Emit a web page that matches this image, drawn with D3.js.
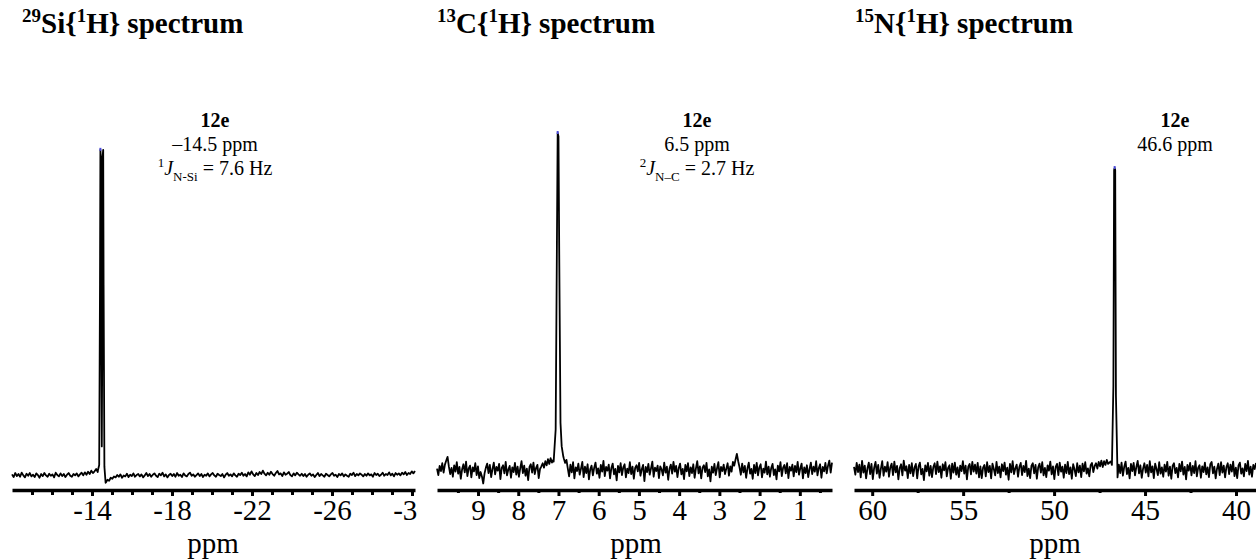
<!DOCTYPE html>
<html>
<head>
<meta charset="utf-8">
<script src="https://cdn.jsdelivr.net/npm/d3@7"></script>
<style>
	body { margin: 0; background: #fff; }
	svg { display: block; font-family: "Liberation Serif", "Times New Roman", serif; }
</style>
</head>
<body>
<div id="chart"></div>
<script>
/* global d3 */

// ---- 29Si{1H} ----
var siDomain = [-10.0, -30.15];
var siTicks = [-14, -18, -22, -26, -30];
var siMinor = [-11, -12, -13, -15, -16, -17, -19, -20, -21, -23, -24, -25, -27, -28, -29];
var siPeakPpm = [-14.30, -14.36, -14.40, -14.42, -14.45, -14.47, -14.49, -14.51, -14.53, -14.56, -14.58, -14.62, -14.68];
var siPeakVal = [0.0, 1.5, 55, 95, 92, 35, 7, 33, 93, 95, 55, 1, -3.8];
var siNoise = [
	-1.3,-2.1,-0.9,-1.8,-1.2,-2.0,-0.8,-1.6,-2.2,-1.1,-1.7,-0.9,-1.9,-1.4,-2.1,-1.0,-1.5,-2.3,-1.2,-1.8,
	-0.9,-1.6,-2.0,-1.1,-1.7,-1.3,-2.2,-0.8,-1.5,-1.9,-1.0,-1.8,-1.2,-2.1,-1.4,-0.9,-1.7,-2.0,-1.2,-1.6,
	-1.0,-1.9,-1.3,-0.8,-1.6,-0.7,-1.4,-0.5,-1.2,-0.2,-0.9,-0.4,0.3,-0.6,-1.5,-1.5,-1.5,-1.5,-3.7,-2.9,
	-3.2,-2.3,-2.6,-1.9,-2.2,-1.5,-2.0,-1.3,-2.3,-1.6,-1.9,-1.1,-2.1,-1.4,-1.8,-1.0,-2.0,-1.5,-1.2,-1.9,
	-1.3,-2.2,-1.6,-0.9,-1.8,-1.2,-2.0,-1.4,-1.0,-1.7,-2.1,-1.1,-1.6,-0.8,-1.9,-1.3,-2.2,-1.5,-1.1,-1.8,
	-1.2,-2.0,-0.9,-1.7,-1.4,-2.1,-1.0,-1.6,-1.9,-1.2,-0.8,-1.7,-1.3,-2.0,-1.5,-1.0,-1.8,-1.2,-2.1,-1.4,
	-1.7,-1.0,-1.9,-1.3,-0.9,-1.6,-2.0,-1.1,-1.5,-1.8,-1.2,-2.2,-1.4,-0.9,-1.7,-1.3,-1.9,-1.0,-1.6,-2.0,
	-1.1,-1.5,-0.8,-1.7,-1.2,-1.9,-0.7,-1.4,-0.4,-1.3,-1.8,-0.9,-1.5,-0.6,-1.2,-0.2,-1.1,-1.6,-0.8,-1.4,
	-0.5,-1.2,-1.7,-0.9,-0.3,-1.3,-1.0,-1.8,-0.7,-1.4,-1.1,-0.6,-1.5,-1.9,-1.0,-1.6,-0.8,-1.3,-1.7,-1.1,
	-1.8,-1.2,-2.0,-1.4,-1.0,-1.7,-1.3,-2.1,-1.5,-0.9,-1.8,-1.2,-1.6,-2.0,-1.1,-1.5,-1.9,-1.3,-0.9,-1.7,
	-1.4,-2.1,-1.2,-1.6,-1.0,-1.9,-1.3,-1.7,-2.0,-1.1,-1.5,-0.8,-1.8,-1.2,-1.6,-1.0,-1.4,-1.9,-1.2,-1.7,
	-1.0,-1.6,-1.3,-2.0,-0.9,-1.5,-1.1,-1.8,-1.4,-0.8,-1.7,-1.2,-1.5,-0.7,-1.6,-1.1,-1.9,-0.9,-1.4,-1.0,
	-1.6,-0.8,-1.3,-0.6,-1.5,-0.9,-1.2,-0.4,-1.0,-0.3
];

// ---- 13C{1H} ----
var cDomain = [10.02, 0.2];
var cTicks = [9, 8, 7, 6, 5, 4, 3, 2, 1];
var cMinor = [9.5, 8.5, 7.5, 6.5, 5.5, 4.5, 3.5, 2.5, 1.5, 0.5];
var cPeakPpm = [7.12, 7.07, 7.04, 7.02, 7.00, 6.98, 6.95, 6.92, 6.88];
var cPeakVal = [2.5, 12, 65, 100, 99, 62, 14, 7, 4];
var cNoise = [
	0.4,-1.5,1.2,-0.3,2.0,-0.8,1.6,2.8,3.9,1.0,-1.2,0.6,-2.0,1.4,-0.5,2.3,-1.1,0.9,-2.6,0.2,
	1.7,-0.7,2.5,-1.8,0.5,1.3,-2.2,0.8,-0.4,2.0,-1.5,1.1,-2.4,-0.6,-1.9,-4.0,-1.0,0.7,1.9,-0.9,
	1.5,-2.1,0.3,2.2,-1.3,0.9,-0.2,1.8,-2.7,0.6,1.4,-1.0,2.4,-1.6,0.1,1.2,-2.3,0.8,-0.6,2.1,
	-1.4,1.0,-2.0,0.5,2.6,-0.9,1.3,-1.7,0.4,-3.0,0.9,1.7,-0.8,2.2,-1.2,0.6,1.5,-2.4,0.3,1.1,
	2.0,0.7,2.6,1.4,3.2,1.8,3.5,2.2,3.0,0.0,0.0,0.0,0.0,0.0,0.0,0.0,3.4,2.1,3.0,0.5,
	-1.9,1.6,-0.7,2.3,-2.5,0.8,-0.3,1.9,-1.4,0.4,2.4,-2.1,1.0,-0.9,1.7,-2.8,0.2,1.3,-1.6,0.7,
	2.2,-1.1,0.5,-2.3,1.5,-0.5,2.7,-1.8,0.9,-0.2,1.6,-2.5,0.6,1.9,-1.3,0.3,-3.1,1.2,-0.7,2.0,
	-1.5,0.8,1.7,-2.2,0.4,-0.9,2.3,-1.2,1.0,-2.6,0.6,1.4,-0.4,2.1,-1.7,0.2,1.5,-3.3,0.9,-0.6,
	1.8,-1.4,0.5,2.5,-2.0,0.7,-0.3,1.3,-2.4,1.1,0.2,-1.6,2.2,-0.8,1.0,-2.9,0.4,1.6,-1.1,2.4,
	-0.5,1.2,-2.1,0.6,1.9,-1.3,0.3,-2.7,1.5,-0.4,2.0,-1.8,0.8,-0.9,1.7,-2.3,0.5,2.6,-1.0,1.1,
	-2.5,0.7,1.4,-0.6,2.1,-1.9,0.2,-3.4,1.0,-0.8,1.8,-1.5,0.6,2.3,-2.2,0.9,-0.3,1.6,-1.2,0.4,
	2.0,-1.7,1.1,-0.5,2.4,1.3,3.1,4.8,2.6,0.8,-1.4,1.9,-0.7,1.2,-2.3,0.5,2.2,-1.1,0.3,-2.6,
	1.5,-0.9,2.1,-1.6,0.8,1.7,-2.2,0.4,-0.8,2.5,-1.3,1.0,-2.0,0.6,1.8,-1.5,0.2,-2.8,1.3,-0.4,
	2.3,-1.8,0.7,1.5,-1.0,2.0,-2.4,0.9,-0.2,1.6,-1.9,1.2,-0.6,2.4,-1.4,0.5,1.9,-2.5,0.8,-0.9,
	1.4,-2.1,0.3,2.2,-1.2,1.0,-0.5,2.6,-1.6,0.6,1.7,-2.3,0.9,-0.4,2.1,-1.0,1.3,2.8,-0.8,2.2
];

// ---- 15N{1H} ----
var nDomain = [61.0, 38.9];
var nTicks = [60, 55, 50, 45, 40];
var nMinor = [57.5, 52.5, 47.5, 42.5];
var nPeakPpm = [46.82, 46.74, 46.70, 46.67, 46.64, 46.60, 46.52];
var nPeakVal = [1.5, 25, 89, 89.6, 89, 22, 0.5];
var nNoise = [
	0.9,-1.4,2.1,-0.6,1.6,-2.2,2.7,-0.8,1.3,-2.5,0.5,2.2,-1.2,1.8,-2.7,0.7,2.4,-1.1,1.5,-2.3,
	0.4,2.6,-1.7,1.0,-0.5,2.3,-2.0,0.8,1.9,-1.5,2.5,-0.7,1.2,-2.8,0.6,1.7,-1.6,2.8,-0.2,1.1,
	-2.4,1.5,-1.0,2.0,-1.8,0.7,1.8,-2.5,1.0,2.2,-1.3,0.3,-3.0,1.4,-0.4,2.1,-1.7,1.2,-2.1,0.9,
	2.0,-1.2,2.5,-0.6,1.1,-2.3,1.7,-0.1,2.3,-1.9,0.6,1.4,-2.6,1.9,-0.8,2.2,-1.4,0.8,-2.1,1.3,
	-0.3,2.6,-1.1,1.3,-2.8,1.0,1.8,-1.3,2.4,-0.5,1.6,-1.1,2.1,-2.2,1.1,-2.4,0.7,1.5,-1.9,2.3,
	-0.6,1.2,-2.5,1.9,0.3,-1.6,2.4,-0.9,1.0,-2.2,1.7,-0.3,2.2,-1.4,0.7,-2.9,1.8,-0.7,2.6,-1.2,
	0.5,1.6,-2.0,0.9,2.1,-1.5,1.2,-0.6,2.7,-1.8,0.4,-2.4,1.3,2.0,-1.0,1.5,-2.6,0.8,1.9,-0.8,
	2.3,-1.6,0.6,-2.1,1.4,-0.2,2.5,-1.3,1.1,-2.7,0.9,1.8,-1.5,2.2,-0.5,1.0,-2.3,1.6,-0.9,2.4,
	-1.2,0.8,-2.6,1.7,0.2,-1.8,2.0,-0.7,1.3,-2.1,1.9,-0.4,2.3,-1.1,0.5,-1.9,1.4,2.1,-0.6,1.2,
	2.0,0.4,2.4,1.1,2.8,0.9,2.6,1.5,3.0,1.8,2.2,2.5,0.3,0.3,0.3,0.3,-2.2,1.6,-0.9,2.2,
	-1.7,1.0,2.5,-1.2,0.6,-2.5,1.8,-0.3,2.1,-1.6,0.9,2.7,-1.0,1.4,-2.3,0.4,2.0,-0.8,1.5,-1.9,
	2.6,-0.7,1.1,-2.4,1.9,0.3,-1.5,2.3,-1.1,0.8,-2.0,1.6,-0.5,2.4,-1.7,1.0,-2.6,1.3,2.0,-0.9,
	0.6,-2.2,1.8,-0.4,2.5,-1.4,0.9,-2.8,1.5,-0.2,2.1,-1.6,1.2,-0.9,2.6,-1.9,0.7,1.4,-2.3,1.1,
	-0.6,2.2,-1.3,0.8,-2.1,1.7,2.4,-1.0,1.0,-2.5,0.4,1.9,-1.5,2.3,-0.8,1.3,-2.2,0.9,2.0,-1.2,
	1.6,-0.5,2.5,-1.8,0.7,-2.4,1.4,2.2,-1.1,0.5,-1.9,1.8,-0.3,2.7,-1.4,1.0,-2.0,1.5,0.3,2.1
];

// ---- texts ----
var siTitle = [{t: '29', s: 'sup'}, {t: 'Si{'}, {t: '1', s: 'sup'}, {t: 'H} spectrum'}];
var cTitle = [{t: '13', s: 'sup'}, {t: 'C{'}, {t: '1', s: 'sup'}, {t: 'H} spectrum'}];
var nTitle = [{t: '15', s: 'sup'}, {t: 'N{'}, {t: '1', s: 'sup'}, {t: 'H} spectrum'}];
var compound = '12e';
var siNote = [
	[{t: '\u201314.5 ppm'}],
	[{t: '1', s: 'sup'}, {t: 'J', i: true}, {t: 'N-Si', s: 'sub'}, {t: ' = 7.6 Hz'}]
];
var cNote = [
	[{t: '6.5 ppm'}],
	[{t: '2', s: 'sup'}, {t: 'J', i: true}, {t: 'N\u2013C', s: 'sub'}, {t: ' = 2.7 Hz'}]
];
var nNote = [
	[{t: '46.6 ppm'}]
];
var axisLabel = 'ppm';

(function () {
	'use strict';

	var W = 1256, H = 559;

	var svg = d3.select('#chart').append('svg')
		.attr('width', W)
		.attr('height', H);

	// shared intensity scale
	var y = d3.scaleLinear().domain([0, 100]).range([470, 133]);

	var panels = [
		{id: 'si', domain: siDomain, range: [12, 415], clip: [0, 418], ticks: siTicks, minor: siMinor,
			noise: siNoise, peakPpm: siPeakPpm, peakVal: siPeakVal, title: siTitle, titleX: 22,
			note: siNote, noteX: 215, labelX: 213},
		{id: 'c', domain: cDomain, range: [437, 832], clip: [424, 840], ticks: cTicks, minor: cMinor,
			noise: cNoise, peakPpm: cPeakPpm, peakVal: cPeakVal, title: cTitle, titleX: 437,
			note: cNote, noteX: 697, labelX: 636},
		{id: 'n', domain: nDomain, range: [854, 1256], clip: [845, 1256], ticks: nTicks, minor: nMinor,
			noise: nNoise, peakPpm: nPeakPpm, peakVal: nPeakVal, title: nTitle, titleX: 855,
			note: nNote, noteX: 1175, labelX: 1055}
	];

	function rich (sel, parts, base) {
		var shift = 0;
		parts.forEach(function (p) {
			var target = p.s === 'sup' ? -0.38 * base : (p.s === 'sub' ? 0.28 * base : 0);
			sel.append('tspan')
				.attr('dy', target - shift)
				.style('font-size', p.s ? Math.round(base * 0.64) + 'px' : null)
				.style('font-style', p.i ? 'italic' : null)
				.text(p.t);
			shift = target;
		});
	}

	function buildSeries (p) {
		var n = p.noise.length,
			step = (p.domain[1] - p.domain[0]) / (n - 1),
			lo = d3.min(p.peakPpm),
			hi = d3.max(p.peakPpm);

		var pts = p.noise.map(function (v, i) {
			return {ppm: p.domain[0] + i * step, v: v};
		}).filter(function (d) { return d.ppm < lo || d.ppm > hi; });

		p.peakPpm.forEach(function (ppm, i) {
			pts.push({ppm: ppm, v: p.peakVal[i]});
		});

		var dir = p.domain[0] > p.domain[1] ? -1 : 1;
		pts.sort(function (a, b) { return dir * (a.ppm - b.ppm); });
		return pts;
	}

	panels.forEach(function (p) {
		var x = d3.scaleLinear().domain(p.domain).range(p.range);

		svg.append('clipPath').attr('id', 'clip-' + p.id)
			.append('rect')
				.attr('x', p.clip[0]).attr('y', 0)
				.attr('width', p.clip[1] - p.clip[0]).attr('height', H);

		var g = svg.append('g').attr('clip-path', 'url(#clip-' + p.id + ')');

		// title
		var title = g.append('text')
			.attr('x', p.titleX)
			.attr('y', 33)
			.style('font-size', '29px')
			.style('font-weight', 'bold');
		rich(title, p.title, 29);

		// annotation
		g.append('text')
			.attr('x', p.noteX).attr('y', 127)
			.attr('text-anchor', 'middle')
			.style('font-size', '20px')
			.style('font-weight', 'bold')
			.text(compound);

		p.note.forEach(function (line, i) {
			var t = g.append('text')
				.attr('x', p.noteX).attr('y', 151 + i * 24)
				.attr('text-anchor', 'middle')
				.style('font-size', '20px');
			rich(t, line, 20);
		});

		// minor ticks
		g.append('g')
			.attr('transform', 'translate(0,490)')
			.call(d3.axisBottom(x).tickValues(p.minor).tickSize(p.id === 'si' ? 5 : 3).tickFormat(''))
			.call(function (a) {
				a.select('.domain').remove();
				a.selectAll('.tick line').attr('stroke', '#000').attr('stroke-width', 3);
			});

		// major ticks + axis line
		g.append('g')
			.attr('transform', 'translate(0,490)')
			.call(d3.axisBottom(x).tickValues(p.ticks).tickSize(6).tickSizeOuter(0).tickPadding(3)
				.tickFormat(function (d) { return String(d); }))
			.call(function (a) {
				a.select('.domain').attr('stroke', '#000').attr('stroke-width', 3.5);
				a.selectAll('.tick line').attr('stroke', '#000').attr('stroke-width', 3);
				a.selectAll('.tick text')
					.attr('fill', '#000')
					.style('font-size', '29px')
					.style('font-family', '"Liberation Serif", serif');
			});

		g.append('text')
			.attr('x', p.labelX).attr('y', 553)
			.attr('text-anchor', 'middle')
			.style('font-size', '29px')
			.text(axisLabel);

		// spectrum
		var series = buildSeries(p);
		var line = d3.line()
			.x(function (d) { return x(d.ppm); })
			.y(function (d) { return y(d.v); });

		g.append('path')
			.datum(series)
			.attr('d', line)
			.attr('fill', 'none')
			.attr('stroke', '#000')
			.attr('stroke-width', 1.8)
			.attr('stroke-linejoin', 'round');

		// small blue mark at the top of the peak
		var top = series.reduce(function (a, b) { return b.v > a.v ? b : a; });
		g.append('line')
			.attr('x1', x(top.ppm)).attr('x2', x(top.ppm))
			.attr('y1', y(top.v) - 2).attr('y2', y(top.v) + 1)
			.attr('stroke', '#4a4ad8')
			.attr('stroke-width', 2);
	});
})();
</script>
</body>
</html>
